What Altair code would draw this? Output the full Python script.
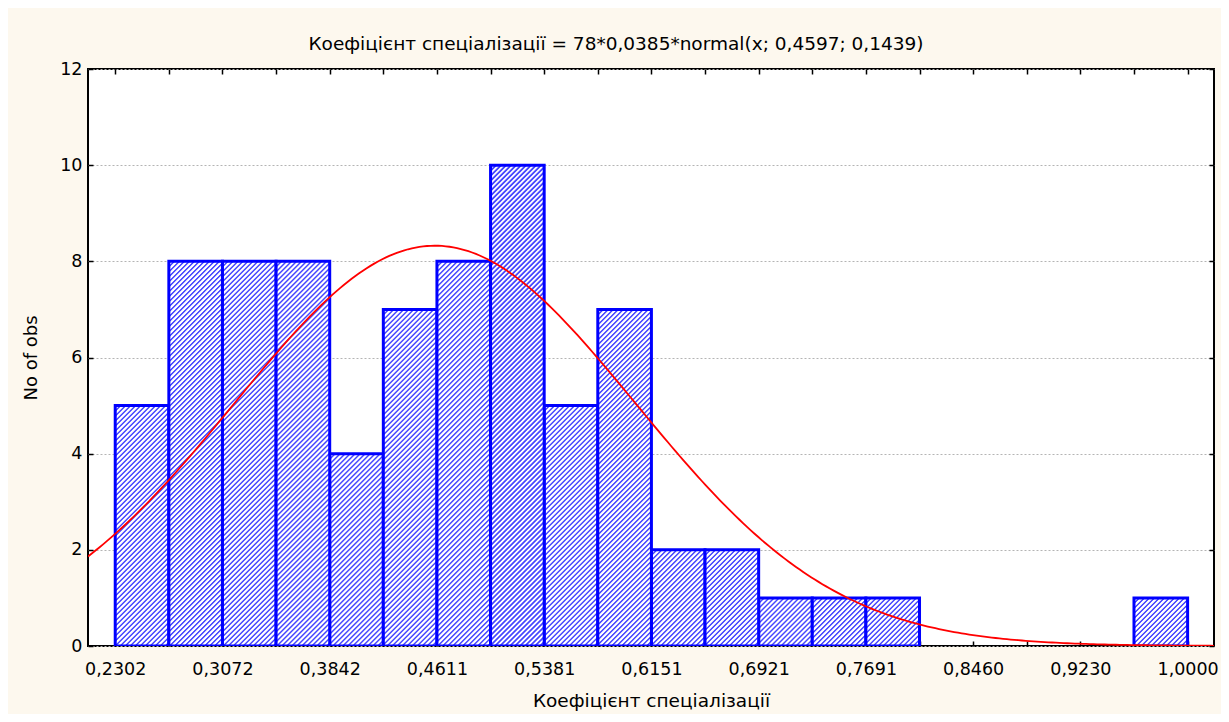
import altair as alt
import numpy as np
import pandas as pd

# ---- data ----
bin_start = 0.2302
bin_width = 0.03849
counts = [5, 8, 8, 8, 4, 7, 8, 10, 5, 7, 2, 2, 1, 1, 1, 0, 0, 0, 0, 1]
x_tick_labels = ["0,2302", "0,3072", "0,3842", "0,4611", "0,5381", "0,6151",
                 "0,6921", "0,7691", "0,8460", "0,9230", "1,0000"]
y_ticks = [0, 2, 4, 6, 8, 10, 12]

# fitted normal curve parameters (from the chart title)
fit_n = 78
fit_bw = 0.0385
fit_mean = 0.4597
fit_sd = 0.1439

title_text = "Коефіцієнт спеціалізації = 78*0,0385*normal(x; 0,4597; 0,1439)"
x_title = "Коефіцієнт спеціалізації"
y_title = "No of obs"

# ---- layout ----
W, H = 1126, 577
x_dom = [bin_start - bin_width * 0.5 - 0.0003, bin_start + bin_width * 20 + bin_width * 0.5 - 0.0003]
y_dom = [0, 12]
FONT = "DejaVu Sans"
BLUE = "#0000ff"

edges = [bin_start + k * bin_width for k in range(len(counts) + 1)]
bars = pd.DataFrame({
    "lo": edges[:-1],
    "hi": edges[1:],
    "count": counts,
})

xs = np.linspace(x_dom[0], x_dom[1], 300)
ys = fit_n * fit_bw * np.exp(-0.5 * ((xs - fit_mean) / fit_sd) ** 2) / (fit_sd * np.sqrt(2 * np.pi))
curve = pd.DataFrame({"x": xs, "y": ys})

px_per_x = W / (x_dom[1] - x_dom[0])
px_per_y = H / (y_dom[1] - y_dom[0])
w_px = bin_width * px_per_x


def hatch(h, w=w_px, period=5.0, blue="#4646ff"):
    s = max(1.0, w * (w + h) / (w * w + h * h))
    L = s * (w * w + h * h) / w
    n = L / period
    stops = []
    k = 0
    while k / n <= 1.0:
        for frac, col in ((0.0, blue), (0.18, blue), (0.42, "#ffffff"), (0.78, "#ffffff")):
            stops.append({"offset": min((k + frac) / n, 1.0), "color": col})
        k += 1
    return {"gradient": "linear", "x1": 0, "y1": 0, "x2": s, "y2": s * h / w, "stops": stops}


fmt_expr = "replace(format(datum.value, '.4f'), '.', ',')"
label_expr = ("(abs(round((datum.value - %f) / %f)) %% 2 == 0) ? " % (bin_start, bin_width)) + fmt_expr + " : ''"

x_axis_bottom = alt.Axis(values=edges, labelExpr=label_expr, orient="bottom", title=x_title,
                         tickSize=5, offset=-5, domain=False, tickColor="#000", tickWidth=1.5,
                         labelPadding=14, labelFontSize=17.5, labelFont=FONT, labelColor="#000",
                         titleFont=FONT, titleFontSize=18.5, titleFontWeight="normal", titleColor="#000",
                         titlePadding=14, grid=False, labelFlush=False, labelOverlap=False)
y_axis_left = alt.Axis(values=y_ticks, orient="left", title=y_title, tickSize=5, offset=-5,
                       domain=False, tickColor="#000", tickWidth=1.5, labelPadding=6,
                       labelFontSize=17.5, labelFont=FONT, labelColor="#000",
                       titleFont=FONT, titleFontSize=18, titleFontWeight="normal", titleColor="#000",
                       titlePadding=19, grid=True, gridDash=[2, 2], gridColor="#b4b4b4",
                       gridWidth=1)
x_axis_top = alt.Axis(values=edges, orient="top", title=None, labels=False, tickSize=5, offset=-5,
                      domain=False, tickColor="#000", tickWidth=1.5, grid=False)
y_axis_right = alt.Axis(values=y_ticks, orient="right", title=None, labels=False, tickSize=5,
                        offset=-5, domain=False, tickColor="#000", tickWidth=1.5, grid=False)

xs_scale = alt.Scale(domain=x_dom, nice=False, zero=False)
ys_scale = alt.Scale(domain=y_dom, nice=False, zero=True)

layers = []
for i, c in enumerate(sorted(set(v for v in counts if v > 0))):
    first = i == 0
    layer = alt.Chart(bars).transform_filter(alt.datum["count"] == c).mark_bar(
        fill=hatch(c * px_per_y), stroke=BLUE, strokeWidth=3, clip=True
    ).encode(
        x=alt.X("lo:Q", scale=xs_scale, axis=x_axis_bottom if first else None),
        x2="hi:Q",
        y=alt.Y("count:Q", scale=ys_scale, axis=y_axis_left if first else None),
        y2=alt.datum(0),
    )
    layers.append(layer)

line = alt.Chart(curve).mark_line(color="#ff0000", strokeWidth=1.8, clip=True).encode(
    x=alt.X("x:Q", scale=xs_scale, axis=x_axis_top),
    y=alt.Y("y:Q", scale=ys_scale, axis=y_axis_right),
)
layers.append(line)

chart = alt.layer(*layers).resolve_axis(x="independent", y="independent").properties(
    width=W, height=H,
    autosize=alt.AutoSizeParams(type="none"),
    padding={"left": 80, "top": 61, "right": 7, "bottom": 68},
    background="#fdf8ee",
    title=alt.Title(title_text, font=FONT, fontSize=18.5, fontWeight="normal", color="#000",
                    anchor="middle", dx=-35, offset=7),
).configure_view(fill="#ffffff", stroke="#000000", strokeWidth=2)

chart.save("out.html", embed_options={"renderer": "svg", "actions": False})
